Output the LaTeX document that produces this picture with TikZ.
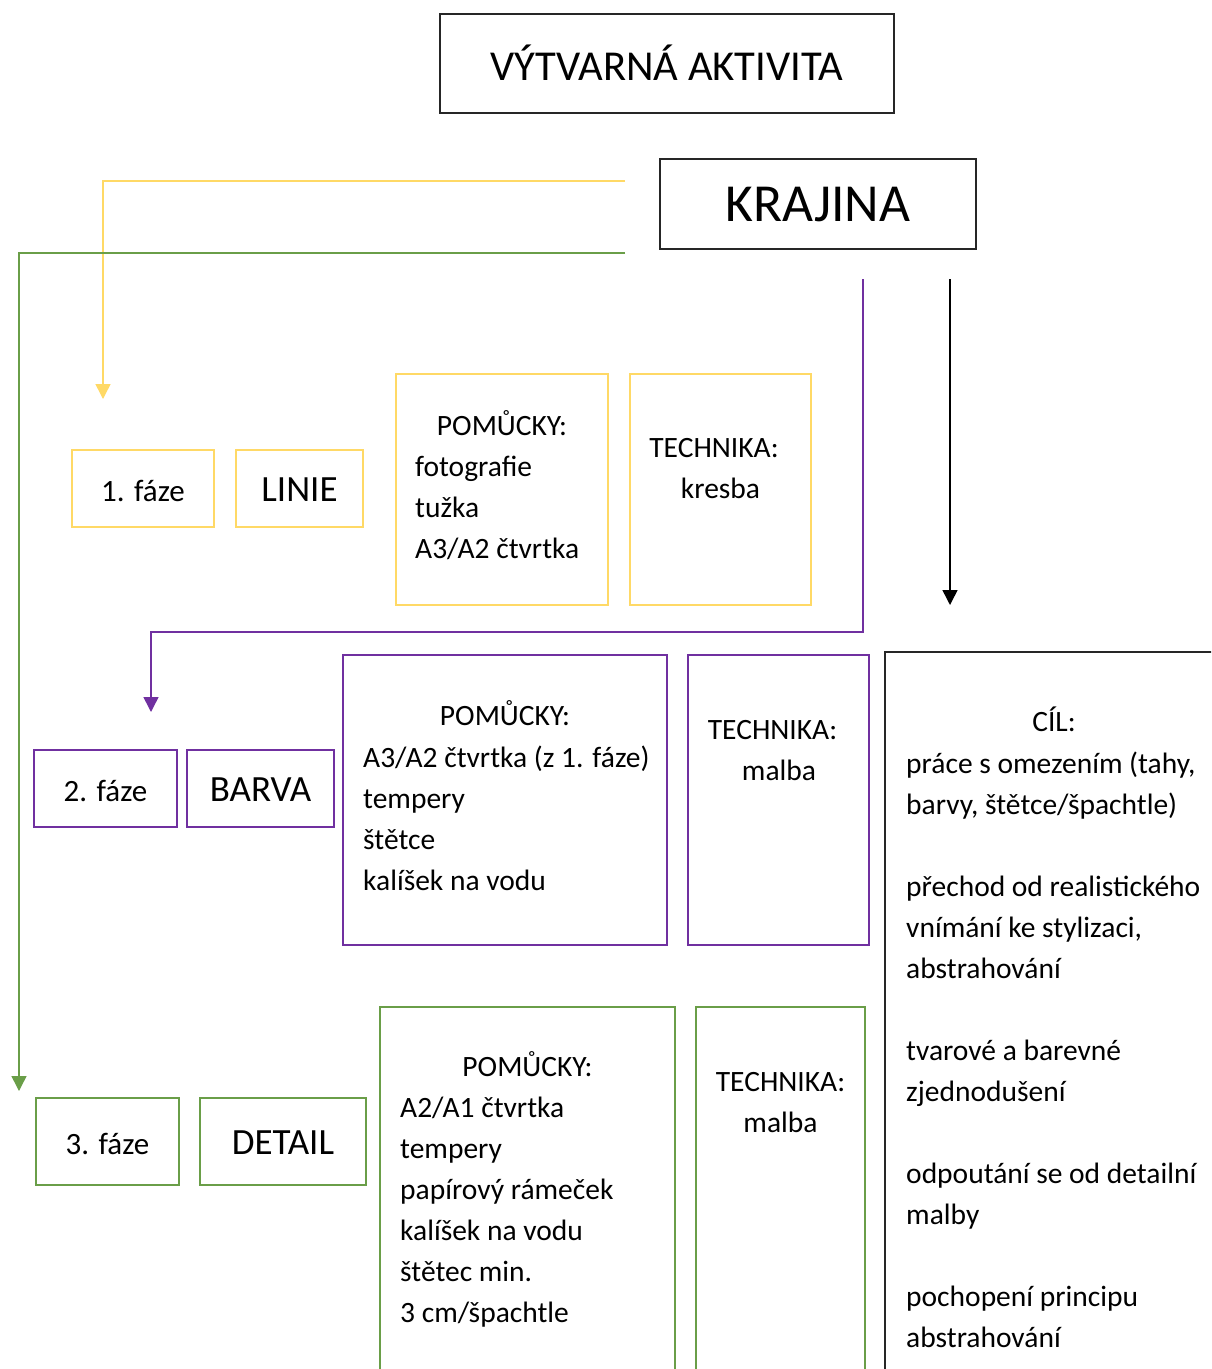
\documentclass[tikz,border=0pt]{standalone}
\usepackage{fontspec}
\setmainfont{Carlito}
\usetikzlibrary{arrows.meta}
\definecolor{zluta}{HTML}{FFD966}
\definecolor{fialova}{HTML}{7030A0}
\definecolor{zelena}{HTML}{6A9E48}
\definecolor{tmava}{HTML}{262626}

\tikzset{
  ramec/.style={draw, line width=1.2pt, inner sep=0pt, text height=25pt, text depth=0pt},
  popis/.style={inner sep=0pt, anchor=base, align=center},
  seznam/.style={inner sep=0pt, anchor=base west, align=left},
  sipka/.style={line width=1.5pt, -{Triangle[width=15pt,length=15pt]}}
}

\begin{document}
\begin{tikzpicture}[x=1pt, y=-1pt, every node/.style={font=\fontsize{29.5}{41}\selectfont}]

\clip (0,0) rectangle (1211,1369);

\node[ramec, draw=tmava, text height=33pt, minimum width=454, minimum height=99,
  font=\fontsize{42.6}{50}\selectfont] (aktivita) at (667,63.5) {VÝTVARNÁ AKTIVITA};
\node[ramec, draw=tmava, text height=34pt, minimum width=316, minimum height=90,
  font=\fontsize{53.5}{60}\selectfont] (krajina) at (818,204) {KRAJINA};

% 1. faze  (base = posledni radek)
\node[ramec, draw=zluta, minimum width=142, minimum height=77, font=\fontsize{31}{41}\selectfont] (faze1) at (143,488.5) {1. fáze};
\node[ramec, draw=zluta, minimum width=127, minimum height=77, font=\fontsize{37}{41}\selectfont] (linie) at (299.5,488.5) {LINIE};
\node[ramec, draw=zluta, minimum width=212, minimum height=231] (pom1) at (502,489.5) {};
\node[ramec, draw=zluta, minimum width=181, minimum height=231] (tech1) at (720.5,489.5) {};
\node[popis] (pom1h) at (502,435) {POMŮCKY:};
\node[seznam] (pom1s) at (415,558) {fotografie\\tužka\\A3/A2 čtvrtka};
\node[popis] (tech1h) at (714,457) {TECHNIKA:};
\node[popis] (tech1t) at (720.5,498) {kresba};

% 2. faze
\node[ramec, draw=fialova, minimum width=143, minimum height=77, font=\fontsize{31}{41}\selectfont] (faze2) at (105.5,788.5) {2. fáze};
\node[ramec, draw=fialova, minimum width=147, minimum height=77, font=\fontsize{37}{41}\selectfont] (barva) at (260.5,788.5) {BARVA};
\node[ramec, draw=fialova, minimum width=324, minimum height=290] (pom2) at (505,800) {};
\node[ramec, draw=fialova, minimum width=181, minimum height=290] (tech2) at (778.5,800) {};
\node[popis] (pom2h) at (505,725) {POMŮCKY:};
\node[seznam] (pom2s) at (363,890) {A3/A2 čtvrtka (z 1. fáze)\\tempery\\štětce\\kalíšek na vodu};
\node[popis] (tech2h) at (772.5,739) {TECHNIKA:};
\node[popis] (tech2t) at (779,780) {malba};

% 3. faze
\node[ramec, draw=zelena, minimum width=143, minimum height=87, font=\fontsize{31}{41}\selectfont] (faze3) at (107.5,1141.5) {3. fáze};
\node[ramec, draw=zelena, minimum width=166, minimum height=87, font=\fontsize{37}{41}\selectfont] (detail) at (283,1141.5) {DETAIL};
\node[ramec, draw=zelena, minimum width=295, minimum height=393] (pom3) at (527.5,1203.5) {};
\node[ramec, draw=zelena, minimum width=169, minimum height=393] (tech3) at (780.5,1203.5) {};
\node[popis] (pom3h) at (527.5,1076) {POMŮCKY:};
\node[seznam] (pom3s) at (400,1322) {A2/A1 čtvrtka\\tempery\\papírový rámeček\\kalíšek na vodu\\štětec min.\\3 cm/špachtle};
\node[popis] (tech3t) at (780.5,1132) {TECHNIKA:\\malba};

% cil
\node[ramec, draw=tmava, minimum width=355, minimum height=748] (cil) at (1062.5,1026) {};
\node[popis] (cilh) at (1054,731) {CÍL:};
\node[seznam] (cils) at (906,1347) {práce s omezením (tahy,\\barvy, štětce/špachtle)\\ \\přechod od realistického\\vnímání ke stylizaci,\\abstrahování\\ \\tvarové a barevné\\zjednodušení\\ \\odpoutání se od detailní\\malby\\ \\pochopení principu\\abstrahování};

% spojnice
\coordinate (zs) at (625,181);
\coordinate (zk) at (103,399);
\coordinate (gs) at (625,253);
\coordinate (gk) at (19,1091);
\coordinate (fs) at (863,279);
\coordinate (fz) at (151,632);
\coordinate (fk) at (151,712);
\coordinate (cs) at (950,279);
\coordinate (ck) at (950,605);

\draw[sipka, zluta] (zs) -| (zk);
\draw[sipka, zelena] (gs) -| (gk);
\draw[sipka, fialova] (fs) |- (fz) -- (fk);
\draw[sipka, black] (cs) -- (ck);

\end{tikzpicture}
\end{document}
